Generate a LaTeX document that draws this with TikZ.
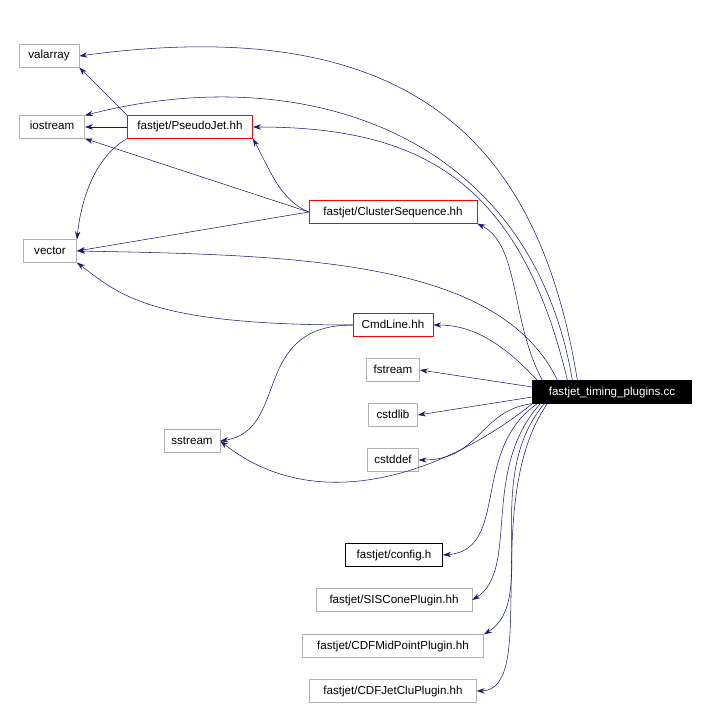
\documentclass[tikz,border=0pt]{standalone}
\usepackage{fontspec}
\setmainfont{Liberation Sans}
\usetikzlibrary{arrows.meta}
\definecolor{depblue}{RGB}{25,25,112}
\tikzset{
  file/.style={draw=black!30, fill=white, inner sep=0pt, minimum height=17pt, text height=6.5pt, text depth=2pt, font=\fontsize{8.7}{10}\selectfont},
  local/.style={file, draw=red},
  dep/.style={draw=depblue, -{Stealth[length=6pt,width=4pt]}, fill=none}
}
\begin{document}
\begin{tikzpicture}[x=0.75pt,y=-0.75pt]
    \useasboundingbox (0,0) rectangle (705,709);

    \node[file, minimum width=45pt] (valarray) at (49,56) {valarray};
    \node[file, minimum width=49pt] (iostream) at (52,127) {iostream};
    \node[local, minimum width=94pt] (pseudojet) at (190,127) {fastjet/PseudoJet.hh};
    \node[local, minimum width=126pt] (clusterseq) at (393,212) {fastjet/ClusterSequence.hh};
    \node[file, minimum width=40pt] (vector) at (50,251) {vector};
    \node[local, minimum width=60pt] (cmdline) at (393,325) {CmdLine.hh};
    \node[file, minimum width=40pt] (fstream) at (393,370) {fstream};
    \node[file, draw=black, fill=black, text=white, minimum width=119pt] (main) at (612,392) {fastjet\_timing\_plugins.cc};
    \node[file, minimum width=37pt] (cstdlib) at (393,415) {cstdlib};
    \node[file, minimum width=42pt] (sstream) at (192,441) {sstream};
    \node[file, minimum width=38pt] (cstddef) at (393,460) {cstddef};
    \node[file, draw=black, minimum width=73pt] (config) at (394,555) {fastjet/config.h};
    \node[file, minimum width=117pt] (siscone) at (394,600) {fastjet/SISConePlugin.hh};
    \node[file, minimum width=136pt] (cdfmid) at (393,646) {fastjet/CDFMidPointPlugin.hh};
    \node[file, minimum width=125pt] (cdfjetclu) at (393,691) {fastjet/CDFJetCluPlugin.hh};

    % from the main file
    \draw[dep] (main.north west) ++(45,0) .. controls (540,150) and (420,10) .. (valarray.east);
    \draw[dep] (main.north west) ++(40,0) .. controls (530,130) and (300,60) .. (iostream.north east);
    \draw[dep] (main.north west) ++(35,0) .. controls (520,180) and (420,127) .. (pseudojet.east);
    \draw[dep] (main.north west) ++(10,0) .. controls (510,320) and (520,245) .. (clusterseq.south east);
    \draw[dep] (main.north west) ++(25,0) .. controls (500,260) and (300,255) .. (vector.east);
    \draw[dep] (main.north west) ++(5,0) .. controls (500,340) and (470,325) .. (cmdline.east);
    \draw[dep] (main.west) ++(0,-5) -- (fstream.east);
    \draw[dep] (main.west) ++(0,5) -- (cstdlib.east);
    \draw[dep] (main.south west) .. controls (480,410) and (480,460) .. (cstddef.east);
    \draw[dep] (main.south west) .. controls (450,470) and (320,520) .. (sstream.east);
    \draw[dep] (main.south west) ++(5,0) .. controls (470,450) and (510,550) .. (config.east);
    \draw[dep] (main.south west) ++(8,0) .. controls (480,470) and (520,570) .. (siscone.east);
    \draw[dep] (main.south west) ++(12,0) .. controls (480,480) and (540,600) .. (cdfmid.north east);
    \draw[dep] (main.south west) ++(15,0) .. controls (480,500) and (540,690) .. (cdfjetclu.east);

    % from the headers
    \draw[dep] (pseudojet.north west) -- (valarray.south east);
    \draw[dep] (pseudojet.west) -- (iostream.east);
    \draw[dep] (pseudojet.south west) .. controls (90,160) and (80,210) .. (vector.north east);
    \draw[dep] (clusterseq.west) .. controls (280,200) and (270,170) .. (pseudojet.south east);
    \draw[dep] (clusterseq.west) -- (iostream.south east);
    \draw[dep] (clusterseq.west) -- (vector.east);
    \draw[dep] (cmdline.west) .. controls (150,325) and (120,295) .. (vector.south east);
    \draw[dep] (cmdline.west) .. controls (250,325) and (290,430) .. (sstream.east);
\end{tikzpicture}
\end{document}
